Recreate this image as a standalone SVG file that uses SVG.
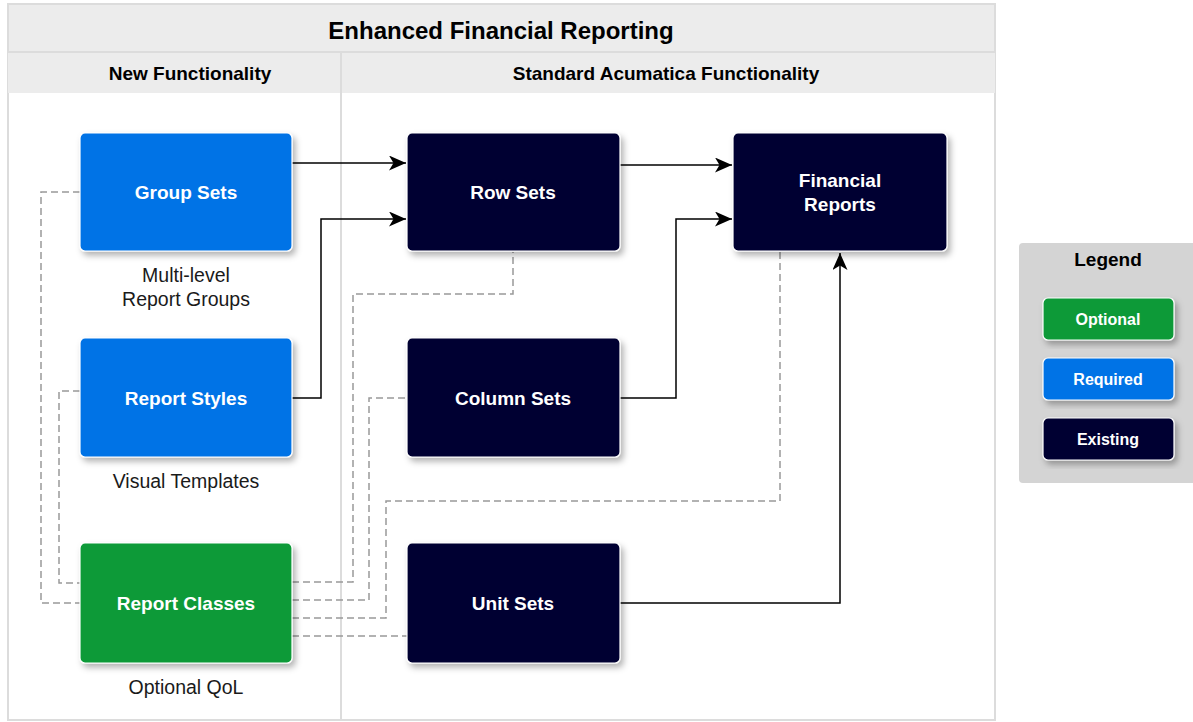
<svg xmlns="http://www.w3.org/2000/svg" width="1193" height="722" viewBox="0 0 1193 722">
<style>
.t{font-family:"Liberation Sans",Arial,sans-serif}
.hd{font-weight:bold;fill:#000;text-anchor:middle}
.nt{font-weight:bold;fill:#fff;text-anchor:middle;font-size:19px}
.lt{font-weight:bold;fill:#fff;text-anchor:middle;font-size:16px}
.sub{fill:#1a1a1a;text-anchor:middle;font-size:19.5px}
.blue{fill:#0073E6;stroke:#fff;stroke-width:1.2}
.green{fill:#089A37;stroke:#fff;stroke-width:1.2}
.navy{fill:#000030;stroke:#fff;stroke-width:1.2}
.solid{fill:none;stroke:#000;stroke-width:1.5;marker-end:url(#arr)}
.dash{fill:none;stroke:#999;stroke-width:1.5;stroke-dasharray:7 4}
</style>
<defs>
<marker id="arr" viewBox="0 0 17 15" refX="17" refY="7.5" markerWidth="17" markerHeight="15" markerUnits="userSpaceOnUse" orient="auto">
<path d="M0,0 L17,7.5 L0,15 L4.5,7.5 Z" fill="#000"/>
</marker>
<filter id="sh" x="-10%" y="-10%" width="125%" height="130%">
<feDropShadow dx="3" dy="4" stdDeviation="3" flood-color="#000" flood-opacity="0.3"/>
</filter>
</defs>
<rect width="1193" height="722" fill="#fff"/>
<g id="container">
<rect x="8" y="4" width="987" height="716" fill="#fff" stroke="#dcdcdc" stroke-width="2"/>
<rect x="8" y="4" width="987" height="48" fill="#ececec" stroke="#dcdcdc" stroke-width="2"/>
<rect x="8" y="52" width="333" height="41" fill="#ececec"/>
<rect x="341" y="52" width="654" height="41" fill="#ececec"/>
<line x1="341" y1="52" x2="341" y2="720" stroke="#dcdcdc" stroke-width="2"/>
<line x1="8" y1="52" x2="995" y2="52" stroke="#dcdcdc" stroke-width="2"/>
<text class="t hd" x="501" y="39" font-size="24">Enhanced Financial Reporting</text>
<text class="t hd" x="190" y="80" font-size="19">New Functionality</text>
<text class="t hd" x="666" y="80" font-size="19">Standard Acumatica Functionality</text>
</g>
<g id="connectors">
<path class="dash" d="M80,192 H41 V603 H80"/>
<path class="dash" d="M80,391 H59 V583 H80"/>
<path class="dash" d="M292,582 H353 V294 H513 V252"/>
<path class="dash" d="M292,600 H369 V398 H407"/>
<path class="dash" d="M292,618 H386 V501 H780 V252"/>
<path class="dash" d="M292,636 H407"/>
<path class="solid" d="M292,163 H406"/>
<path class="solid" d="M292,398 H321 V219 H406"/>
<path class="solid" d="M620,165 H732"/>
<path class="solid" d="M620,398 H676 V219 H732"/>
<path class="solid" d="M620,603 H840 V253"/>
</g>
<g id="group-sets">
<rect class="blue" x="80" y="133" width="212" height="118" rx="5" filter="url(#sh)"/>
<text class="t nt" x="186" y="199">Group Sets</text>
<text class="t sub" x="186" y="282">Multi-level</text>
<text class="t sub" x="186" y="306">Report Groups</text>
</g>
<g id="report-styles">
<rect class="blue" x="80" y="338" width="212" height="119" rx="5" filter="url(#sh)"/>
<text class="t nt" x="186" y="405">Report Styles</text>
<text class="t sub" x="186" y="488">Visual Templates</text>
</g>
<g id="report-classes">
<rect class="green" x="80" y="543" width="212" height="120" rx="5" filter="url(#sh)"/>
<text class="t nt" x="186" y="610">Report Classes</text>
<text class="t sub" x="186" y="694">Optional QoL</text>
</g>
<g id="row-sets">
<rect class="navy" x="407" y="133" width="213" height="118" rx="5" filter="url(#sh)"/>
<text class="t nt" x="513" y="199">Row Sets</text>
</g>
<g id="column-sets">
<rect class="navy" x="407" y="338" width="213" height="119" rx="5" filter="url(#sh)"/>
<text class="t nt" x="513" y="405">Column Sets</text>
</g>
<g id="unit-sets">
<rect class="navy" x="407" y="543" width="213" height="120" rx="5" filter="url(#sh)"/>
<text class="t nt" x="513" y="610">Unit Sets</text>
</g>
<g id="financial-reports">
<rect class="navy" x="733" y="133" width="214" height="118" rx="5" filter="url(#sh)"/>
<text class="t nt" x="840" y="187">Financial</text>
<text class="t nt" x="840" y="211">Reports</text>
</g>
<g id="legend">
<rect x="1019" y="243" width="180" height="240" rx="4" fill="#d4d4d4"/>
<text class="t hd" x="1108" y="266" font-size="19">Legend</text>
<rect class="green" x="1043" y="298" width="131" height="42" rx="5" filter="url(#sh)"/>
<text class="t lt" x="1108" y="325">Optional</text>
<rect class="blue" x="1043" y="358" width="131" height="42" rx="5" filter="url(#sh)"/>
<text class="t lt" x="1108" y="385">Required</text>
<rect class="navy" x="1043" y="418" width="131" height="42" rx="5" filter="url(#sh)"/>
<text class="t lt" x="1108" y="445">Existing</text>
</g>
</svg>
